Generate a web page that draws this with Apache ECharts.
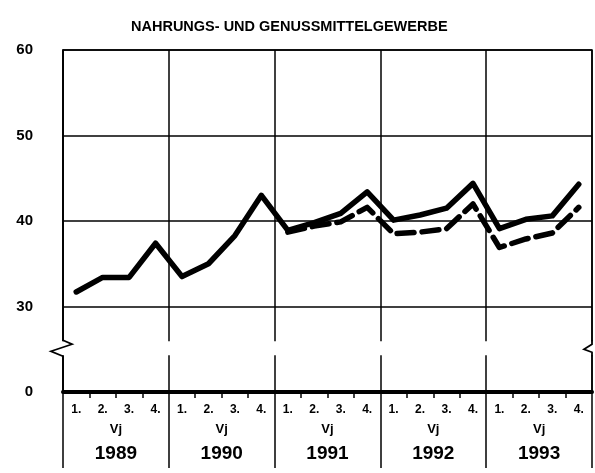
<!DOCTYPE html>
<html>
<head>
<meta charset="utf-8">
<script src="https://cdn.jsdelivr.net/npm/echarts@6/dist/echarts.min.js"></script>
<style>
  html, body { margin: 0; padding: 0; background: #fff; }
  #chart { width: 595px; height: 473px; }
</style>
</head>
<body>
<div id="chart"></div>
<script>
const titleText = 'NAHRUNGS- UND GENUSSMITTELGEWERBE'
const years = ['1989', '1990', '1991', '1992', '1993']
const quarters = []
years.forEach(y => ['1.', '2.', '3.', '4.'].forEach(q => quarters.push(q)))

// solid line, all quarters 1989-1993
const solidValues = [31.7, 33.4, 33.4, 37.4, 33.5, 35.0, 38.3, 43.0,
                     38.9, 39.8, 40.9, 43.4, 40.1, 40.7, 41.5, 44.4,
                     39.1, 40.2, 40.6, 44.3]
// dashed line, from 1991
const dashedValues = [null, null, null, null, null, null, null, null,
                      38.7, 39.4, 39.9, 41.6, 38.5, 38.7, 39.1, 42.0,
                      36.9, 37.9, 38.6, 41.6]

// y axis starts at 20, shown as 0 (broken axis)
const yLabels = { 20: '0', 30: '30', 40: '40', 50: '50', 60: '60' }

const font = 'Liberation Sans'
const gridLeft = 63, gridRight = 3
const W = 595
const chart = echarts.init(document.getElementById('chart'))

chart.setOption({
  animation: false,
  backgroundColor: '#fff',
  title: {
    text: titleText,
    left: 126,
    top: 14,
    textStyle: { fontFamily: font, fontSize: 14.5, fontWeight: 'bold', color: '#000' }
  },
  grid: {
    left: gridLeft, right: gridRight, top: 50, bottom: 81,
    show: true,
    borderColor: '#000',
    borderWidth: 1.5
  },
  xAxis: [
    {
      type: 'category',
      position: 'bottom',
      data: quarters,
      axisLine: { lineStyle: { color: '#000', width: 4 } },
      axisTick: { show: true, interval: 0, length: 6, lineStyle: { color: '#000', width: 1.5 } },
      axisLabel: {
        interval: 0, margin: 12, color: '#000',
        fontFamily: font, fontSize: 12, fontWeight: 'bold'
      },
      splitLine: { show: false }
    },
    {
      type: 'category',
      position: 'bottom',
      data: years,
      axisLine: { show: false },
      axisTick: { show: true, interval: 0, length: 76, lineStyle: { color: '#000', width: 1.5 } },
      axisLabel: {
        interval: 0, margin: 29, color: '#000',
        formatter: v => '{v|Vj}\n{y|' + v + '}',
        rich: {
          v: { fontFamily: font, fontSize: 13, fontWeight: 'bold', lineHeight: 16, color: '#000' },
          y: { fontFamily: font, fontSize: 19, fontWeight: 'bold', lineHeight: 33, color: '#000' }
        }
      },
      splitLine: { show: true, interval: 0, lineStyle: { color: '#000', width: 1.5 } }
    }
  ],
  yAxis: {
    type: 'value',
    min: 20,
    max: 60,
    interval: 10,
    axisLine: { show: true, lineStyle: { color: '#000', width: 1.5 } },
    axisTick: { show: false },
    axisLabel: {
      margin: 30, color: '#000',
      fontFamily: font, fontSize: 15, fontWeight: 'bold',
      formatter: v => yLabels[v] || ''
    },
    splitLine: { show: true, lineStyle: { color: '#000', width: 1.5 } }
  },
  series: [
    {
      type: 'line',
      xAxisIndex: 0,
      data: solidValues,
      symbol: 'none',
      z: 5,
      lineStyle: { color: '#000', width: 5.5, cap: 'round', join: 'round' }
    },
    {
      type: 'line',
      xAxisIndex: 0,
      data: dashedValues,
      symbol: 'none',
      z: 4,
      lineStyle: { color: '#000', width: 5.5, type: [17, 8], cap: 'round', join: 'round' }
    }
  ]
})

// break marks on the y axis (zigzag replaces the border segment)
const yb = chart.convertToPixel({ yAxisIndex: 0 }, 25)
const xl = gridLeft
const xr = W - gridRight
const stroke = { stroke: '#000', lineWidth: 1.8, fill: null }
chart.setOption({
  graphic: [
    {
      type: 'rect', z: 50,
      shape: { x: xl - 2, y: yb - 8, width: xr - xl + 4, height: 14 },
      style: { fill: '#fff' }
    },
    {
      type: 'polyline', z: 60,
      shape: { points: [[xl, yb - 9], [xl + 9, yb - 5], [xl - 12, yb + 2], [xl, yb + 7]] },
      style: stroke
    },
    {
      type: 'polyline', z: 60,
      shape: { points: [[xr, yb - 9], [xr, yb - 5], [xr - 8, yb], [xr, yb + 3], [xr, yb + 7]] },
      style: stroke
    }
  ]
})

window.onresize = chart.resize
</script>
</body>
</html>
